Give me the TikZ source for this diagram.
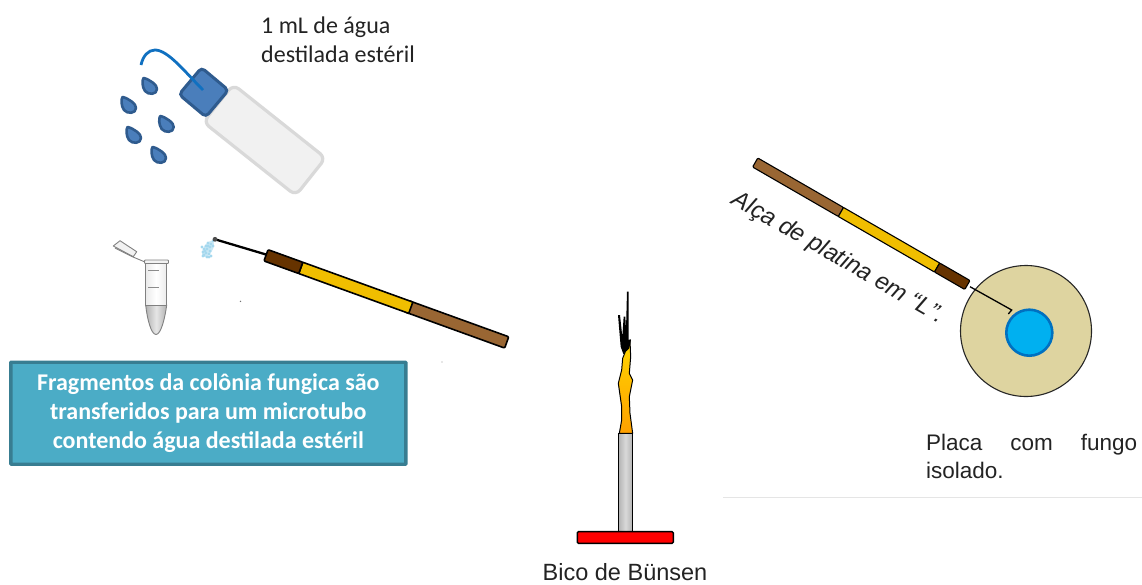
\documentclass[tikz,border=0pt]{standalone}
\usepackage{fontspec}
\setmainfont{Liberation Sans}
\newfontfamily\calibrifont{Carlito}
\usetikzlibrary{arrows.meta,calc}
\definecolor{capfill}{RGB}{74,126,187}
\definecolor{capedge}{RGB}{47,91,142}
\definecolor{tubeblue}{RGB}{16,112,192}
\definecolor{bottlefill}{RGB}{241,241,241}
\definecolor{bottleedge}{RGB}{217,217,217}
\definecolor{boxfill}{RGB}{75,172,198}
\definecolor{boxedge}{RGB}{56,125,145}
\definecolor{woodbrown}{RGB}{153,102,51}
\definecolor{darkbrown}{RGB}{102,51,0}
\definecolor{handleyellow}{RGB}{240,190,0}
\definecolor{platefill}{RGB}{222,212,160}
\definecolor{colonyfill}{RGB}{0,176,240}
\definecolor{colonyedge}{RGB}{0,112,192}
\definecolor{spraycolor}{RGB}{165,216,238}
\definecolor{flamegold}{RGB}{255,214,0}
\definecolor{flameorange}{RGB}{255,160,0}
\definecolor{labelgray}{RGB}{35,35,35}
\tikzset{
  labeltext/.style={text=labelgray,inner sep=0pt},
  handlepart/.style={draw=black,line width=1.6pt,line join=round},
}
\begin{document}
\begin{tikzpicture}[x=1pt,y=-1pt,>=Stealth]
  \useasboundingbox (0,0) rectangle (1142,584);

  % --- wash bottle ---
  \begin{scope}[shift={(264.5,140)},rotate=-38.5]
    \draw[bottleedge,fill=bottlefill,line width=3.2pt,rounded corners=7pt]
      (-59,-24) rectangle (59,24);
  \end{scope}
  \begin{scope}[shift={(203.7,92.3)},rotate=-40]
    \draw[capedge,fill=capfill,line width=3pt,rounded corners=4pt]
      (-17.5,-17.5) rectangle (17.5,17.5);
  \end{scope}
  % spout
  \draw[tubeblue,line width=2.8pt]
    (203,90) .. controls (185,72) and (168,50) .. (155,50)
    .. controls (148,50) and (143,56) .. (141,65);
  % drops
  \foreach \dropx/\dropy in {150/86,129/105,166.7/124,134/135,159/155} {
    \draw[capedge,fill=capfill,line width=2.6pt,line join=round]
      (\dropx-6.5,\dropy-8) .. controls (\dropx-1,\dropy-7) and (\dropx+7.5,\dropy-1)
      .. (\dropx+7,\dropy+3) .. controls (\dropx+7,\dropy+9) and (\dropx-2,\dropy+9)
      .. (\dropx-5,\dropy+5) .. controls (\dropx-8,\dropy+1) and (\dropx-8,\dropy-6)
      .. cycle;
  }
  \node[labeltext,anchor=north west,align=left,font=\calibrifont\fontsize{24}{29.5}\selectfont]
    (waterlabel) at (261,16.5) {1 mL de água\\destilada estéril};

  % --- microtube ---
  \draw[gray,line width=.9pt,left color=black!30,right color=black!30,middle color=black!10]
    (145.7,305) .. controls (147,318) and (151,334.5) .. (156,334.5)
    .. controls (161,334.5) and (165,318) .. (166.7,305) -- cycle;
  \draw[gray,line width=.9pt,left color=black!8,right color=black!8,middle color=white]
    (145.7,263) -- (145.7,305) -- (166.7,305) -- (166.7,263) -- cycle;
  \draw[gray,line width=.9pt,fill=black!5,rounded corners=.8pt] (144.5,260) rectangle (168.5,263.5);
  \draw[black!45,line width=1pt] (148,270) -- (158.5,270);
  \draw[black!45,line width=1pt] (148,287.7) -- (158.5,287.7);
  % open lid
  \draw[gray,line width=.9pt,fill=black!5,line join=round]
    (120,240.7) -- (136.7,251.7) -- (133.3,256.7) -- (113.3,246) -- cycle;
  \draw[gray,line width=.9pt] (115,248) -- (133,257) -- (145,262);

  % --- loop near the tube ---
  \fill[spraycolor,opacity=.6,rotate around={60:(208,249)}] (208,249) ellipse (9pt and 4.5pt);
  \foreach \sprayx/\sprayy in {213/241,211/244,208/243,206/246,210/247,213/246,204/249,207/249,
    210/251,203/252,206/253,209/254,204/255,207/257,211/256,202/247,205/251,208/246,203/256,209/257} {
    \fill[spraycolor] (\sprayx,\sprayy) circle (1.6pt);
  }
  \coordinate (wiretip) at (215,239.3);
  \draw[black,line width=2.3pt] (wiretip) -- (266,254.5);
  \fill[black!70] (wiretip) circle (2.4pt);
  \begin{scope}[shift={(266,255.3)},rotate=-19.9]
    \draw[handlepart,fill=woodbrown,rounded corners=1pt] (150,-6) rectangle (256,6);
    \draw[handlepart,fill=handleyellow] (37,-6) rectangle (154,6);
    \draw[handlepart,fill=darkbrown,rounded corners=1pt] (0,-6) rectangle (37,6);
  \end{scope}

  % stray specks
  \fill[black!55] (240.5,301.3) circle (.8pt);
  \fill[black!40] (442,362) circle (.7pt);

  % --- caption box ---
  \node[draw=boxedge,fill=boxfill,line width=3.4pt,rounded corners=.6pt,minimum width=395pt,minimum height=102pt,
    inner sep=0pt,text=white,align=center,font=\calibrifont\bfseries\fontsize{24}{29}\selectfont]
    (stepbox) at (208.3,413.2)
    {Fragmentos da colônia fungica são\\transferidos para um microtubo\\contendo água destilada estéril};

  % --- burner ---
  \begin{scope}[shift={(530,280)},x=.3333pt,y=-.3333pt]
    \draw[black,line width=1pt,line join=round,top color=flamegold,bottom color=flameorange]
      (268,460) -- (275,420) -- (275,380) -- (265,310) -- (275,270) -- (278,235)
      -- (290,205) -- (300,180) -- (302,230) -- (298,280) -- (308,300) -- (298,350)
      -- (300,400) -- (308,460) -- cycle;
    \fill[black]
      (291,35) -- (296,35) -- (296,180) -- (303,178) -- (298,205) -- (280,222) -- (272,200)
      -- (264,105) -- (270,105) -- (277,170) -- (281,110) -- (286,110) -- (288,150) -- cycle;
    \draw[black,line width=1.4pt,left color=black!30,right color=black!30,middle color=black!15]
      (265,460) rectangle (308,755);
    \draw[black,line width=1.4pt,fill=red,rounded corners=1.2pt] (142,755) rectangle (430,790);
  \end{scope}
  \node[labeltext,font=\fontsize{23.5}{26}\selectfont] (burnerlabel) at (625,572) {Bico de Bünsen};

  % --- plate with colony ---
  \node[circle,draw=black!85,fill=platefill,line width=1.1pt,minimum size=131pt,inner sep=0pt]
    (plate) at (1026,331) {};
  \node[circle,draw=colonyedge,fill=colonyfill,line width=2.6pt,minimum size=46pt,inner sep=0pt]
    (colony) at (1029.3,332.7) {};
  \coordinate (hookend) at (1008.3,314);
  \draw[black,line width=1.3pt] (970,286.7) -- (1011.7,310) -- (hookend);
  \begin{scope}[shift={(755.2,162.5)},rotate=-30]
    \draw[handlepart,line width=1.1pt,fill=woodbrown,rounded corners=1pt] (0,-5.2) rectangle (99,5.2);
    \draw[handlepart,line width=1.1pt,fill=handleyellow] (99,-5.2) rectangle (210,5.2);
    \draw[handlepart,line width=1.1pt,fill=darkbrown,rounded corners=1pt] (210,-5.2) rectangle (245,5.2);
  \end{scope}
  \node[labeltext,rotate=-30,font=\itshape\fontsize{24}{26}\selectfont]
    (looplabel) at (838,258) {Alça de platina em “L”.};

  % --- plate label and rule ---
  \node[labeltext,anchor=north west,align=left,font=\fontsize{22.5}{28}\selectfont]
    (platelabel) at (926,433.5)
    {\hbox to 211pt{Placa\hfill com\hfill fungo}\\isolado.};
  \draw[black!10,line width=1pt] (723,497) -- (1142,497);
\end{tikzpicture}
\end{document}
